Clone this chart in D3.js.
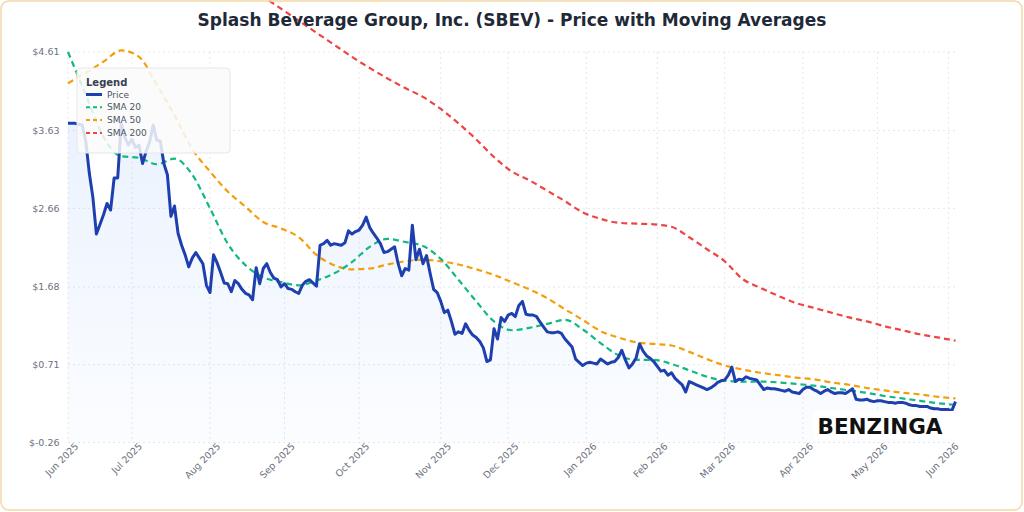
<!DOCTYPE html>
<html>
<head>
<meta charset="utf-8">
<script src="https://cdn.jsdelivr.net/npm/d3@7"></script>
<style>
  body { margin: 0; background: #fff; }
  #chart { width: 1024px; height: 512px; }
  text { font-family: "DejaVu Sans", sans-serif; }
</style>
</head>
<body>
<div id="chart"></div>
<script>
//// data
var title = "Splash Beverage Group, Inc. (SBEV) - Price with Moving Averages";
var monthLabels = ["Jun 2025", "Jul 2025", "Aug 2025", "Sep 2025", "Oct 2025", "Nov 2025", "Dec 2025",
                   "Jan 2026", "Feb 2026", "Mar 2026", "Apr 2026", "May 2026", "Jun 2026"];
var monthStart = [0, 18, 40, 61, 82, 105, 124, 146, 166, 185, 207, 228, 248]; // trading-day index
var yTicks = [-0.26, 0.71, 1.68, 2.66, 3.63, 4.61];

// daily close, one per trading day
var price = [
  3.72,3.72,3.72,3.71,3.70,3.50,3.10,2.80,2.34,2.46,
  2.58,2.72,2.64,3.04,3.04,3.72,3.55,3.45,3.52,3.42,
  3.45,3.22,3.37,3.49,3.70,3.51,3.50,3.22,3.08,2.56,
  2.69,2.35,2.20,2.08,1.93,2.04,2.11,2.04,1.97,1.70,
  1.61,2.08,1.98,1.86,1.73,1.72,1.62,1.76,1.72,1.65,
  1.60,1.58,1.52,1.92,1.72,1.91,1.97,1.86,1.79,1.77,
  1.68,1.72,1.66,1.65,1.62,1.60,1.70,1.75,1.77,1.73,
  1.69,2.20,2.22,2.26,2.20,2.22,2.21,2.20,2.23,2.38,
  2.34,2.37,2.39,2.45,2.55,2.42,2.35,2.29,2.22,2.11,
  2.12,2.15,2.18,1.97,1.82,1.91,1.89,2.45,2.02,2.15,
  1.97,2.07,1.85,1.65,1.61,1.50,1.36,1.39,1.25,1.09,
  1.12,1.10,1.22,1.14,1.08,1.05,1.00,0.92,0.75,0.77,
  1.16,1.03,1.30,1.25,1.33,1.35,1.31,1.45,1.50,1.34,
  1.33,1.33,1.31,1.24,1.18,1.12,1.11,1.11,1.12,1.10,
  1.03,0.98,0.93,0.78,0.74,0.70,0.73,0.74,0.73,0.72,
  0.78,0.75,0.72,0.74,0.75,0.80,0.89,0.77,0.67,0.72,
  0.79,0.97,0.88,0.82,0.79,0.75,0.69,0.63,0.64,0.58,
  0.61,0.54,0.50,0.46,0.37,0.50,0.48,0.46,0.44,0.42,
  0.40,0.42,0.45,0.49,0.51,0.52,0.58,0.68,0.50,0.53,
  0.52,0.56,0.54,0.53,0.52,0.46,0.40,0.42,0.41,0.41,
  0.40,0.39,0.38,0.40,0.37,0.36,0.35,0.40,0.43,0.43,
  0.40,0.38,0.35,0.38,0.40,0.37,0.35,0.36,0.36,0.35,
  0.38,0.41,0.28,0.27,0.27,0.28,0.26,0.25,0.26,0.26,
  0.25,0.24,0.24,0.23,0.24,0.24,0.23,0.21,0.20,0.20,
  0.19,0.19,0.19,0.17,0.16,0.16,0.15,0.15,0.15,0.14,
  0.25
];

// moving averages, read every 5 trading days
var smaStep = 5;
var sma20 = [
  4.61,4.08,3.55,3.31,3.29,3.21,3.28,3.08,2.66,2.22,
  1.95,1.80,1.74,1.70,1.76,1.85,1.99,2.18,2.28,2.24,
  2.19,2.03,1.77,1.50,1.25,1.14,1.17,1.22,1.27,1.15,
  0.98,0.83,0.77,0.77,0.72,0.64,0.56,0.51,0.50,0.50,
  0.49,0.47,0.45,0.42,0.39,0.36,0.32,0.29,0.26,0.23,
  0.21
];
var sma50 = [
  4.22,4.35,4.49,4.63,4.55,4.20,3.82,3.40,3.12,2.87,
  2.68,2.49,2.41,2.30,2.08,1.95,1.90,1.91,1.96,2.00,
  2.02,2.00,1.96,1.90,1.83,1.74,1.65,1.54,1.40,1.27,
  1.13,1.05,0.99,0.97,0.95,0.87,0.78,0.70,0.65,0.61,
  0.58,0.55,0.53,0.49,0.46,0.42,0.39,0.36,0.34,0.31,
  0.29
];
var sma200 = [
  null,null,null,null,null,null,null,null,null,5.60,
  5.45,5.30,5.15,5.00,4.85,4.70,4.55,4.41,4.28,4.16,
  4.05,3.90,3.72,3.52,3.30,3.12,3.01,2.88,2.75,2.61,
  2.53,2.48,2.47,2.46,2.43,2.30,2.15,2.00,1.78,1.67,
  1.57,1.48,1.42,1.36,1.30,1.25,1.19,1.14,1.09,1.05,
  1.01
];

var series = [
  {name: "Price",   color: "#1e40af", dash: null},
  {name: "SMA 20",  color: "#10b981", dash: "6,4"},
  {name: "SMA 50",  color: "#f59e0b", dash: "6,4"},
  {name: "SMA 200", color: "#ef4444", dash: "6,4"}
];

//// chart
var W = 1024, H = 512;
var plot = {left: 68, right: 955.5, top: 52, bottom: 442.5};

var svg = d3.select("#chart")
  .append("svg")
    .attr("width", W)
    .attr("height", H);

svg.append("rect")
  .attr("width", W).attr("height", H)
  .attr("fill", "#fff");

var xScale = d3.scaleLinear()
  .domain([0, price.length - 1])
  .range([plot.left, plot.right]);

var yScale = d3.scaleLinear()
  .domain([yTicks[0], yTicks[yTicks.length - 1]])
  .range([plot.bottom, plot.top]);

var defs = svg.append("defs");
var grad = defs.append("linearGradient")
  .attr("id", "areaFill")
  .attr("x1", 0).attr("y1", 0).attr("x2", 0).attr("y2", 1);
grad.append("stop").attr("offset", "0%").attr("stop-color", "#3b82f6").attr("stop-opacity", 0.10);
grad.append("stop").attr("offset", "100%").attr("stop-color", "#3b82f6").attr("stop-opacity", 0.02);

//// grid
var grid = svg.append("g").attr("class", "grid");
grid.selectAll(".hgrid")
  .data(yTicks)
  .enter().append("line")
    .attr("x1", plot.left).attr("x2", plot.right + 1)
    .attr("y1", d => yScale(d)).attr("y2", d => yScale(d))
    .attr("stroke", "#e5e7eb")
    .attr("stroke-dasharray", "2,3");
grid.selectAll(".vgrid")
  .data(monthStart)
  .enter().append("line")
    .attr("x1", d => xScale(d)).attr("x2", d => xScale(d))
    .attr("y1", plot.top).attr("y2", plot.bottom)
    .attr("stroke", "#e5e7eb")
    .attr("stroke-dasharray", "2,3");

//// axes labels
svg.append("g")
  .selectAll("text")
  .data(yTicks)
  .enter().append("text")
    .attr("x", 59.5)
    .attr("y", d => yScale(d))
    .attr("dy", "0.35em")
    .attr("text-anchor", "end")
    .attr("font-size", "9.5px")
    .attr("fill", "#6b7280")
    .text(d => "$" + d.toFixed(2));

svg.append("g")
  .selectAll("text")
  .data(monthStart)
  .enter().append("text")
    .attr("transform", d => "translate(" + (xScale(d) + 11) + "," + 447 + ") rotate(-45)")
    .attr("text-anchor", "end")
    .attr("font-size", "9.5px")
    .attr("fill", "#6b7280")
    .text((d, i) => monthLabels[i]);

//// area + lines
var area = d3.area()
  .x((d, i) => xScale(i))
  .y0(plot.bottom)
  .y1(d => yScale(d));

svg.append("path")
  .datum(price)
  .attr("d", area)
  .attr("fill", "url(#areaFill)");

var smaLine = d3.line()
  .defined(d => d != null)
  .x((d, i) => xScale(i * smaStep))
  .y(d => yScale(d))
  .curve(d3.curveMonotoneX);

[sma200, sma50, sma20].forEach(function(s, k) {
  var info = series[3 - k];
  svg.append("path")
    .datum(s)
    .attr("d", smaLine)
    .attr("fill", "none")
    .attr("stroke", info.color)
    .attr("stroke-width", 2.2)
    .attr("stroke-dasharray", info.dash);
});

var priceLine = d3.line()
  .x((d, i) => xScale(i))
  .y(d => yScale(d));

svg.append("path")
  .datum(price)
  .attr("d", priceLine)
  .attr("fill", "none")
  .attr("stroke", series[0].color)
  .attr("stroke-width", 3)
  .attr("stroke-linejoin", "round");

//// title
svg.append("text")
  .attr("x", W / 2)
  .attr("y", 26)
  .attr("text-anchor", "middle")
  .attr("font-size", "17px")
  .attr("font-weight", "bold")
  .attr("fill", "#1f2937")
  .text(title);

//// legend
var legend = svg.append("g").attr("transform", "translate(77,68)");
legend.append("rect")
  .attr("width", 153).attr("height", 85)
  .attr("rx", 4)
  .attr("fill", "rgba(250,250,250,0.85)")
  .attr("stroke", "#e5e7eb");
legend.append("text")
  .attr("x", 9).attr("y", 17.5)
  .attr("font-size", "10px")
  .attr("font-weight", "bold")
  .attr("fill", "#374151")
  .text("Legend");
var item = legend.selectAll(".item")
  .data(series)
  .enter().append("g")
    .attr("transform", (d, i) => "translate(9," + (26.5 + i * 12.8) + ")");
item.append("line")
  .attr("x1", 0).attr("x2", 16)
  .attr("stroke", d => d.color)
  .attr("stroke-width", d => d.dash ? 2 : 3)
  .attr("stroke-dasharray", d => d.dash ? "4,3" : null);
item.append("text")
  .attr("x", 21).attr("dy", "0.35em")
  .attr("font-size", "9px")
  .attr("fill", "#4b5563")
  .text(d => d.name);

//// watermark
svg.append("rect")
  .attr("x", 813).attr("y", 411)
  .attr("width", 142).attr("height", 28)
  .attr("fill", "#fff");
svg.append("text")
  .attr("x", 880).attr("y", 434)
  .attr("text-anchor", "middle")
  .attr("font-size", "21.5px")
  .attr("font-weight", "bold")
  .attr("fill", "#111")
  .text("BENZINGA");

//// frame
svg.append("rect")
  .attr("x", 1).attr("y", 1)
  .attr("width", W - 3).attr("height", H - 3)
  .attr("rx", 8)
  .attr("fill", "none")
  .attr("stroke", "#f0d9a6")
  .attr("stroke-width", 1.5);
</script>
</body>
</html>
